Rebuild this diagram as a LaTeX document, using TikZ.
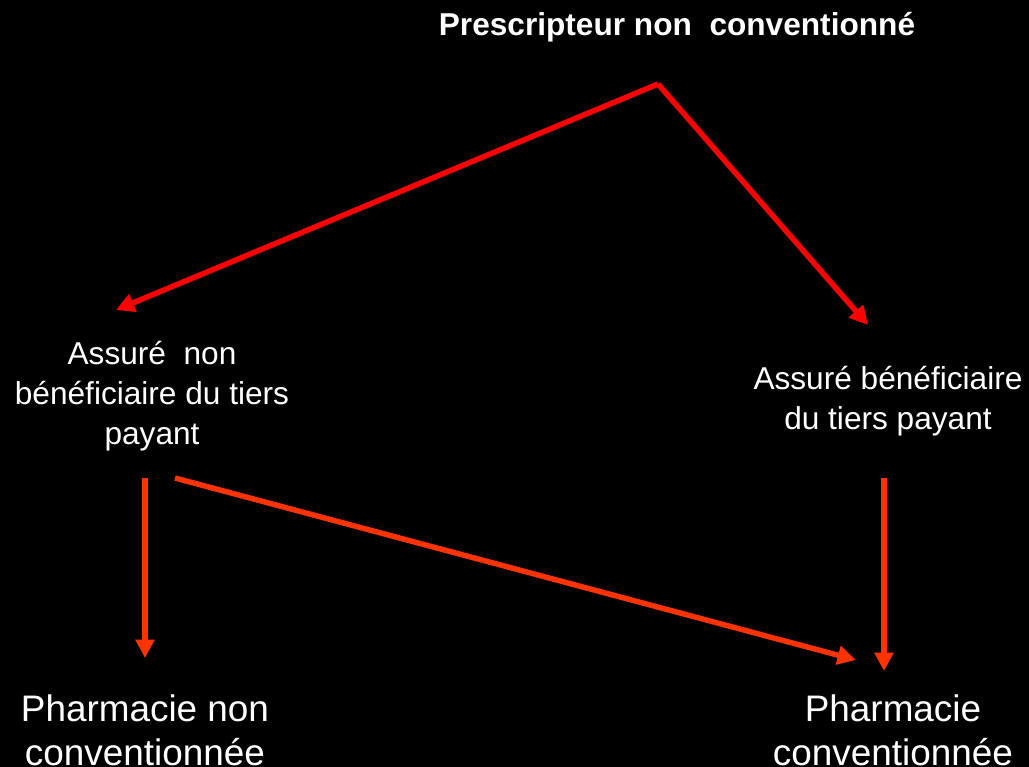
\documentclass[tikz,border=0pt]{standalone}
\usepackage{fontspec}
\setmainfont{Liberation Sans}
\usetikzlibrary{arrows.meta}

\definecolor{flechetop}{RGB}{255,0,0}
\definecolor{flechebas}{RGB}{255,51,0}

\tikzset{
 label/.style={text=white,align=center,inner sep=0pt,font=\fontsize{18}{22.7}\selectfont},
 grand/.style={text=white,align=center,inner sep=0pt,font=\fontsize{21}{25}\selectfont},
 fleche/.style={-{Triangle[length=10.5pt,width=10.5pt]},line width=3.1pt},
}

\begin{document}
\begin{tikzpicture}[x=0.02cm,y=-0.02cm]
 \fill[black] (0,0) rectangle (1029,767);
 \useasboundingbox (0,0) rectangle (1029,767);

 \node [label,font=\bfseries\fontsize{18}{22.7}\selectfont] (P) at (677,27) {Prescripteur non~ conventionné};
 \node [label] (ANB) at (152,396) {Assuré~ non\\bénéficiaire du tiers\\payant};
 \node [label] (AB) at (888,401) {Assuré bénéficiaire\\du tiers payant};
 \node [grand] (PNC) at (145,730) {Pharmacie non\\conventionnée};
 \node [grand] (PC) at (893,730) {Pharmacie\\conventionnée};

 \coordinate (sommet) at (658,84);
 \coordinate (ANBtop) at (116,310);
 \coordinate (ABtop) at (868,325);
 \coordinate (ANBbas) at (145,478);
 \coordinate (ANBdiag) at (175,478);
 \coordinate (PNCtop) at (145,658);
 \coordinate (PCdiag) at (856,660);
 \coordinate (ABbas) at (884,478);
 \coordinate (PCtop) at (884,671);

 \draw[fleche,flechetop] (sommet) -- (ANBtop);
 \draw[fleche,flechetop] (sommet) -- (ABtop);
 \draw[fleche,flechebas] (ANBbas) -- (PNCtop);
 \draw[fleche,flechebas] (ANBdiag) -- (PCdiag);
 \draw[fleche,flechebas] (ABbas) -- (PCtop);
\end{tikzpicture}
\end{document}
